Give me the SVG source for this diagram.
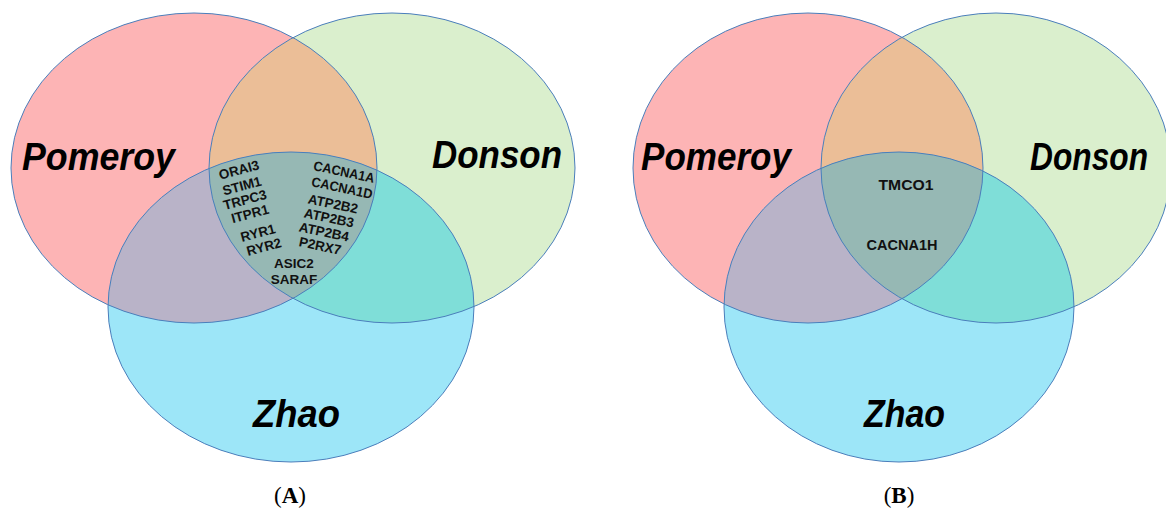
<svg xmlns="http://www.w3.org/2000/svg" width="1166" height="509" viewBox="0 0 1166 509">
<style>
.ol{fill:none;stroke:#4a7ebb;stroke-width:1}
.big{font-family:"Liberation Sans",Arial,sans-serif;font-weight:bold;font-style:italic;font-size:39px;fill:#000}
.gene{font-family:"Liberation Sans",Arial,sans-serif;font-weight:bold;font-size:13.5px;fill:#111;text-anchor:middle;dominant-baseline:central}
.geneB{font-family:"Liberation Sans",Arial,sans-serif;font-weight:bold;font-size:14.5px;fill:#111;text-anchor:middle;dominant-baseline:central}
.cap{font-family:"Liberation Serif","Times New Roman",serif;font-size:23px;fill:#000;text-anchor:middle}
</style>
<defs>
<clipPath id="cPA"><ellipse cx="194" cy="168" rx="183" ry="155"/></clipPath>
<clipPath id="cDA"><ellipse cx="392" cy="168" rx="183" ry="155"/></clipPath>
<clipPath id="cPB"><ellipse cx="808" cy="168" rx="175" ry="155"/></clipPath>
<clipPath id="cDB"><ellipse cx="996" cy="168" rx="175" ry="155"/></clipPath>
</defs>
<rect width="1166" height="509" fill="#ffffff"/>

<g id="panelA">
<g id="pomeroyA">
<ellipse cx="194" cy="168" rx="183" ry="155" fill="#fdb4b5"/>
</g>
<g id="donsonA">
<ellipse cx="392" cy="168" rx="183" ry="155" fill="#daefcd"/>
</g>
<g id="zhaoA">
<ellipse cx="291" cy="307" rx="183" ry="155" fill="#9de6f8"/>
</g>
<g id="overlapsA">
<ellipse cx="392" cy="168" rx="183" ry="155" fill="#ebbe97" clip-path="url(#cPA)"/>
<ellipse cx="291" cy="307" rx="183" ry="155" fill="#b9b3c8" clip-path="url(#cPA)"/>
<ellipse cx="291" cy="307" rx="183" ry="155" fill="#7fded8" clip-path="url(#cDA)"/>
<g clip-path="url(#cPA)"><ellipse cx="291" cy="307" rx="183" ry="155" fill="#96b8b4" clip-path="url(#cDA)"/></g>
</g>
<g id="outlinesA">
<ellipse class="ol" cx="194" cy="168" rx="183" ry="155"/>
<ellipse class="ol" cx="392" cy="168" rx="183" ry="155"/>
<ellipse class="ol" cx="291" cy="307" rx="183" ry="155"/>
</g>
<text class="big" x="22" y="170" textLength="153" lengthAdjust="spacingAndGlyphs">Pomeroy</text>
<text class="big" x="432" y="168" textLength="130" lengthAdjust="spacingAndGlyphs">Donson</text>
<text class="big" x="253" y="427" textLength="87" lengthAdjust="spacingAndGlyphs">Zhao</text>
<g id="genesA">
<text class="gene" transform="translate(239,170) rotate(-15)">ORAI3</text>
<text class="gene" transform="translate(242,186) rotate(-15)">STIM1</text>
<text class="gene" transform="translate(245,200) rotate(-15)">TRPC3</text>
<text class="gene" transform="translate(250,214) rotate(-15)">ITPR1</text>
<text class="gene" transform="translate(258,233) rotate(-15)">RYR1</text>
<text class="gene" transform="translate(264,247) rotate(-15)">RYR2</text>
<text class="gene" transform="translate(344,172) rotate(12)" textLength="62" lengthAdjust="spacingAndGlyphs">CACNA1A</text>
<text class="gene" transform="translate(342,188) rotate(12)" textLength="62" lengthAdjust="spacingAndGlyphs">CACNA1D</text>
<text class="gene" transform="translate(333,204) rotate(12)">ATP2B2</text>
<text class="gene" transform="translate(329,218) rotate(12)">ATP2B3</text>
<text class="gene" transform="translate(324,232) rotate(12)">ATP2B4</text>
<text class="gene" transform="translate(320,246) rotate(12)">P2RX7</text>
<text class="gene" x="294" y="263">ASIC2</text>
<text class="gene" x="294" y="279">SARAF</text>
</g>
<text class="cap" x="290" y="503">(<tspan font-weight="bold">A</tspan>)</text>
</g>

<g id="panelB">
<g id="pomeroyB">
<ellipse cx="808" cy="168" rx="175" ry="155" fill="#fdb4b5"/>
</g>
<g id="donsonB">
<ellipse cx="996" cy="168" rx="175" ry="155" fill="#daefcd"/>
</g>
<g id="zhaoB">
<ellipse cx="899" cy="307" rx="175" ry="155" fill="#9de6f8"/>
</g>
<g id="overlapsB">
<ellipse cx="996" cy="168" rx="175" ry="155" fill="#ebbe97" clip-path="url(#cPB)"/>
<ellipse cx="899" cy="307" rx="175" ry="155" fill="#b9b3c8" clip-path="url(#cPB)"/>
<ellipse cx="899" cy="307" rx="175" ry="155" fill="#7fded8" clip-path="url(#cDB)"/>
<g clip-path="url(#cPB)"><ellipse cx="899" cy="307" rx="175" ry="155" fill="#96b8b4" clip-path="url(#cDB)"/></g>
</g>
<g id="outlinesB">
<ellipse class="ol" cx="808" cy="168" rx="175" ry="155"/>
<ellipse class="ol" cx="996" cy="168" rx="175" ry="155"/>
<ellipse class="ol" cx="899" cy="307" rx="175" ry="155"/>
</g>
<text class="big" x="641" y="170" textLength="150" lengthAdjust="spacingAndGlyphs">Pomeroy</text>
<text class="big" x="1030" y="170" textLength="118" lengthAdjust="spacingAndGlyphs">Donson</text>
<text class="big" x="864" y="427" textLength="81" lengthAdjust="spacingAndGlyphs">Zhao</text>
<g id="genesB">
<text class="geneB" x="906" y="185" textLength="55" lengthAdjust="spacingAndGlyphs">TMCO1</text>
<text class="geneB" x="902" y="245" textLength="71" lengthAdjust="spacingAndGlyphs">CACNA1H</text>
</g>
<text class="cap" x="899" y="503">(<tspan font-weight="bold">B</tspan>)</text>
</g>
</svg>
